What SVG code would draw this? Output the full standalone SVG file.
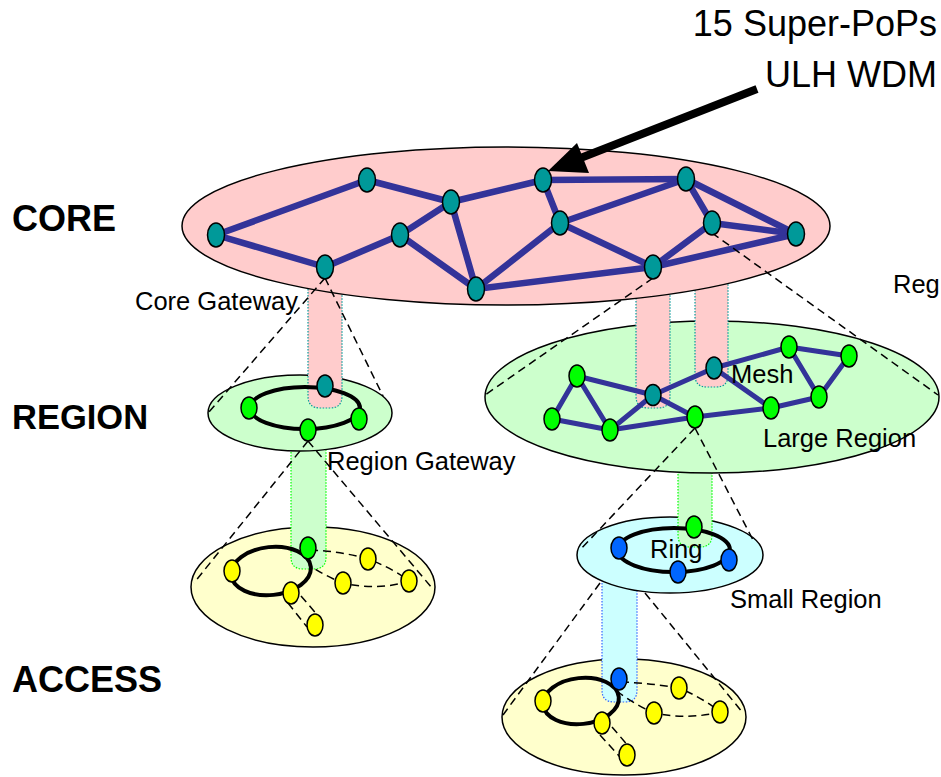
<svg xmlns="http://www.w3.org/2000/svg" width="941" height="777" viewBox="0 0 941 777">
<style>
.lbl{font-family:"Liberation Sans",Arial,sans-serif;fill:#000}
.big{font-size:36px}
.bold{font-size:36px;font-weight:bold}
.mid{font-size:25.5px}
.ell{stroke:#000;stroke-width:1.5}
.mesh{stroke:#333399;stroke-width:6.5;stroke-linecap:round;fill:none}
.mesh2{stroke:#333399;stroke-width:5;stroke-linecap:round;fill:none}
.ring{stroke:#000;stroke-width:4;fill:none}
.dash{stroke:#000;stroke-width:1.5;stroke-dasharray:8,5;fill:none}
.teal{fill:#009999;stroke:#000;stroke-width:1.5}
.grn{fill:#00ff00;stroke:#000;stroke-width:1.5}
.blu{fill:#0066ff;stroke:#000;stroke-width:1.5}
.yel{fill:#ffff00;stroke:#000;stroke-width:1.5}
.pp{fill:#ffcccc;stroke:#009999;stroke-width:1.2;stroke-dasharray:1.5,1.5}
.gp{fill:#ccffcc;stroke:#00ff00;stroke-width:1.2;stroke-dasharray:1.5,1.5}
.bp{fill:#ccffff;stroke:#3366ff;stroke-width:1.2;stroke-dasharray:1.5,1.5}
</style>

<!-- access level -->
<ellipse id="access-left" class="ell" cx="313" cy="587" rx="122" ry="60" fill="#ffffcc"/>
<ellipse id="access-right" class="ell" cx="624" cy="717" rx="122" ry="58" fill="#ffffcc"/>
<path class="gp" d="M291,440 V557 Q291,569 303,569 H314 Q326,569 326,557 V440"/>
<path class="bp" d="M602,550 V690 Q602,702 614,702 H625 Q637,702 637,690 V550"/>

<!-- small region -->
<ellipse id="small-region" class="ell" cx="670" cy="555" rx="93" ry="38" fill="#ccffff"/>
<path class="gp" d="M678,420 V535 Q678,547 690,547 H700 Q712,547 712,535 V420"/>

<!-- region level -->
<ellipse id="region-left" class="ell" cx="300" cy="413" rx="92" ry="38" fill="#ccffcc"/>
<ellipse id="large-region" class="ell" cx="712" cy="397" rx="227" ry="76" fill="#ccffcc"/>
<path class="pp" d="M308,250 V396 Q308,408 320,408 H330 Q342,408 342,396 V250"/>
<path class="pp" d="M636,250 V396 Q636,408 648,408 H658 Q670,408 670,396 V250"/>
<path class="pp" d="M695,230 V375 Q695,387 707,387 H716 Q728,387 728,375 V230"/>

<!-- core -->
<ellipse id="core" class="ell" cx="506" cy="226" rx="324" ry="79" fill="#ffcccc"/>

<g id="connectors">
  <!-- core mesh -->
  <g class="mesh">
    <line x1="216" y1="235" x2="367" y2="180"/>
    <line x1="216" y1="235" x2="325" y2="267"/>
    <line x1="367" y1="180" x2="451" y2="202"/>
    <line x1="451" y1="202" x2="543" y2="180"/>
    <line x1="325" y1="267" x2="400" y2="235"/>
    <line x1="400" y1="235" x2="451" y2="202"/>
    <line x1="400" y1="235" x2="476" y2="289"/>
    <line x1="451" y1="202" x2="476" y2="289"/>
    <line x1="543" y1="180" x2="560" y2="223"/>
    <line x1="543" y1="180" x2="686" y2="179"/>
    <line x1="686" y1="179" x2="560" y2="223"/>
    <line x1="560" y1="223" x2="476" y2="289"/>
    <line x1="560" y1="223" x2="653" y2="267"/>
    <line x1="476" y1="289" x2="653" y2="267"/>
    <line x1="653" y1="267" x2="712" y2="223"/>
    <line x1="653" y1="267" x2="796" y2="234"/>
    <line x1="686" y1="179" x2="712" y2="223"/>
    <line x1="686" y1="179" x2="796" y2="234"/>
    <line x1="712" y1="223" x2="796" y2="234"/>
  </g>
  <!-- large region mesh -->
  <g class="mesh2">
    <line x1="577" y1="376" x2="552" y2="419"/>
    <line x1="577" y1="376" x2="610" y2="430"/>
    <line x1="552" y1="419" x2="610" y2="430"/>
    <line x1="577" y1="376" x2="653" y2="395"/>
    <line x1="610" y1="430" x2="653" y2="395"/>
    <line x1="610" y1="430" x2="695" y2="417"/>
    <line x1="653" y1="395" x2="714" y2="368"/>
    <line x1="653" y1="395" x2="695" y2="417"/>
    <line x1="695" y1="417" x2="771" y2="408"/>
    <line x1="714" y1="368" x2="771" y2="408"/>
    <line x1="714" y1="368" x2="789" y2="347"/>
    <line x1="789" y1="347" x2="849" y2="356"/>
    <line x1="789" y1="347" x2="819" y2="397"/>
    <line x1="849" y1="356" x2="819" y2="397"/>
    <line x1="771" y1="408" x2="819" y2="397"/>
  </g>
  <!-- rings -->
  <ellipse class="ring" cx="305" cy="408" rx="55" ry="21"/>
  <ellipse class="ring" cx="674" cy="550" rx="56" ry="22"/>
  <ellipse class="ring" cx="271" cy="571" rx="40" ry="24" transform="rotate(-6 271 571)"/>
  <ellipse class="ring" cx="581" cy="701" rx="38" ry="23" transform="rotate(-6 581 701)"/>
  <!-- access dashed links -->
  <path class="dash" d="M310,550 Q340,551 368,559 Q392,568 409,581 Q378,591 343,583 Q325,576 309,565"/>
  <path class="dash" d="M288,603 L307,627"/>
  <path class="dash" d="M301,596 L320,618"/>
  <path class="dash" d="M621,682 Q650,683 679,688 Q703,698 720,712 Q688,720 654,713 Q634,704 618,692"/>
  <path class="dash" d="M600,735 L620,757"/>
  <path class="dash" d="M612,727 L630,748"/>
  <!-- cone lines -->
  <line class="dash" x1="325" y1="278" x2="209" y2="412"/>
  <line class="dash" x1="325" y1="278" x2="383" y2="396"/>
  <line class="dash" x1="653" y1="278" x2="485" y2="395"/>
  <line class="dash" x1="712" y1="233" x2="938" y2="395"/>
  <line class="dash" x1="308" y1="441" x2="194" y2="583"/>
  <line class="dash" x1="308" y1="441" x2="432" y2="588"/>
  <line class="dash" x1="695" y1="428" x2="580" y2="550"/>
  <line class="dash" x1="695" y1="428" x2="753" y2="540"/>
  <line class="dash" x1="600" y1="583" x2="503" y2="715"/>
  <line class="dash" x1="645" y1="593" x2="743" y2="713"/>
  <!-- pointer arrow -->
  <line x1="757" y1="89" x2="578" y2="159" stroke="#000" stroke-width="8"/>
  <polygon points="548,171 577,143 589,173" fill="#000"/>
</g>

<!-- core nodes -->
<g id="core-n1"><ellipse class="teal" cx="216" cy="235" rx="8.5" ry="12"/></g>
<g id="core-n2"><ellipse class="teal" cx="367" cy="180" rx="8.5" ry="12"/></g>
<g id="core-n3"><ellipse class="teal" cx="451" cy="202" rx="8.5" ry="12"/></g>
<g id="core-n4"><ellipse class="teal" cx="543" cy="180" rx="8.5" ry="12"/></g>
<g id="core-n5"><ellipse class="teal" cx="560" cy="223" rx="8.5" ry="12"/></g>
<g id="core-n6"><ellipse class="teal" cx="325" cy="267" rx="8.5" ry="12"/></g>
<g id="core-n7"><ellipse class="teal" cx="400" cy="235" rx="8.5" ry="12"/></g>
<g id="core-n8"><ellipse class="teal" cx="476" cy="289" rx="8.5" ry="12"/></g>
<g id="core-n9"><ellipse class="teal" cx="686" cy="179" rx="8.5" ry="12"/></g>
<g id="core-n10"><ellipse class="teal" cx="712" cy="223" rx="8.5" ry="12"/></g>
<g id="core-n11"><ellipse class="teal" cx="796" cy="234" rx="8.5" ry="12"/></g>
<g id="core-n12"><ellipse class="teal" cx="653" cy="267" rx="8.5" ry="12"/></g>

<!-- left region nodes -->
<g id="lreg-gw-core"><ellipse class="teal" cx="325" cy="386" rx="8" ry="11"/></g>
<g id="lreg-n1"><ellipse class="grn" cx="249" cy="408" rx="8" ry="11"/></g>
<g id="lreg-gw"><ellipse class="grn" cx="308" cy="430" rx="8" ry="11"/></g>
<g id="lreg-n3"><ellipse class="grn" cx="359" cy="419" rx="8" ry="11"/></g>

<!-- large region nodes -->
<g id="large-n1"><ellipse class="grn" cx="577" cy="376" rx="8" ry="11"/></g>
<g id="large-n2"><ellipse class="grn" cx="552" cy="419" rx="8" ry="11"/></g>
<g id="large-n3"><ellipse class="grn" cx="610" cy="430" rx="8" ry="11"/></g>
<g id="large-t1"><ellipse class="teal" cx="653" cy="395" rx="8" ry="10.5"/></g>
<g id="large-t2"><ellipse class="teal" cx="714" cy="368" rx="8" ry="11"/></g>
<g id="large-gw"><ellipse class="grn" cx="695" cy="417" rx="8" ry="11"/></g>
<g id="large-n5"><ellipse class="grn" cx="771" cy="408" rx="8" ry="11"/></g>
<g id="large-n6"><ellipse class="grn" cx="789" cy="347" rx="8" ry="11"/></g>
<g id="large-n7"><ellipse class="grn" cx="849" cy="356" rx="8" ry="11"/></g>
<g id="large-n8"><ellipse class="grn" cx="819" cy="397" rx="8" ry="11"/></g>

<!-- small region nodes -->
<g id="small-gw-up"><ellipse class="grn" cx="694" cy="527" rx="8" ry="11"/></g>
<g id="small-n1"><ellipse class="blu" cx="619" cy="548" rx="8" ry="11"/></g>
<g id="small-n2"><ellipse class="blu" cx="678" cy="572" rx="8" ry="11"/></g>
<g id="small-n3"><ellipse class="blu" cx="729" cy="560" rx="8" ry="11"/></g>

<!-- left access nodes -->
<g id="lacc-gw"><ellipse class="grn" cx="308" cy="548" rx="8" ry="11"/></g>
<g id="lacc-n1"><ellipse class="yel" cx="232" cy="571" rx="8" ry="11"/></g>
<g id="lacc-n2"><ellipse class="yel" cx="291" cy="593" rx="8" ry="11"/></g>
<g id="lacc-n3"><ellipse class="yel" cx="368" cy="559" rx="8" ry="11"/></g>
<g id="lacc-n4"><ellipse class="yel" cx="343" cy="583" rx="8" ry="11"/></g>
<g id="lacc-n5"><ellipse class="yel" cx="409" cy="581" rx="8" ry="11"/></g>
<g id="lacc-n6"><ellipse class="yel" cx="315" cy="625" rx="8" ry="11"/></g>

<!-- right access nodes -->
<g id="racc-gw"><ellipse class="blu" cx="619" cy="679" rx="8" ry="11"/></g>
<g id="racc-n1"><ellipse class="yel" cx="543" cy="701" rx="8" ry="11"/></g>
<g id="racc-n2"><ellipse class="yel" cx="602" cy="723" rx="8" ry="11"/></g>
<g id="racc-n3"><ellipse class="yel" cx="679" cy="688" rx="8" ry="11"/></g>
<g id="racc-n4"><ellipse class="yel" cx="654" cy="713" rx="8" ry="11"/></g>
<g id="racc-n5"><ellipse class="yel" cx="720" cy="712" rx="8" ry="11"/></g>
<g id="racc-n6"><ellipse class="yel" cx="627" cy="755" rx="8" ry="11"/></g>

<!-- labels -->
<g id="labels">
  <text class="lbl big" x="937" y="36" text-anchor="end">15 Super-PoPs</text>
  <text class="lbl big" x="937" y="87" text-anchor="end">ULH WDM</text>
  <text class="lbl bold" x="12" y="231">CORE</text>
  <text class="lbl bold" x="12" y="429" style="font-size:34.5px">REGION</text>
  <text class="lbl bold" x="12" y="692">ACCESS</text>
  <text class="lbl mid" x="135" y="310">Core Gateway</text>
  <text class="lbl mid" x="893" y="293">Reg</text>
  <text class="lbl mid" x="327" y="470">Region Gateway</text>
  <text class="lbl mid" x="731" y="383">Mesh</text>
  <text class="lbl mid" x="763" y="447">Large Region</text>
  <text class="lbl mid" x="730" y="608">Small Region</text>
  <text class="lbl mid" x="650" y="558">Ring</text>
</g>
</svg>
